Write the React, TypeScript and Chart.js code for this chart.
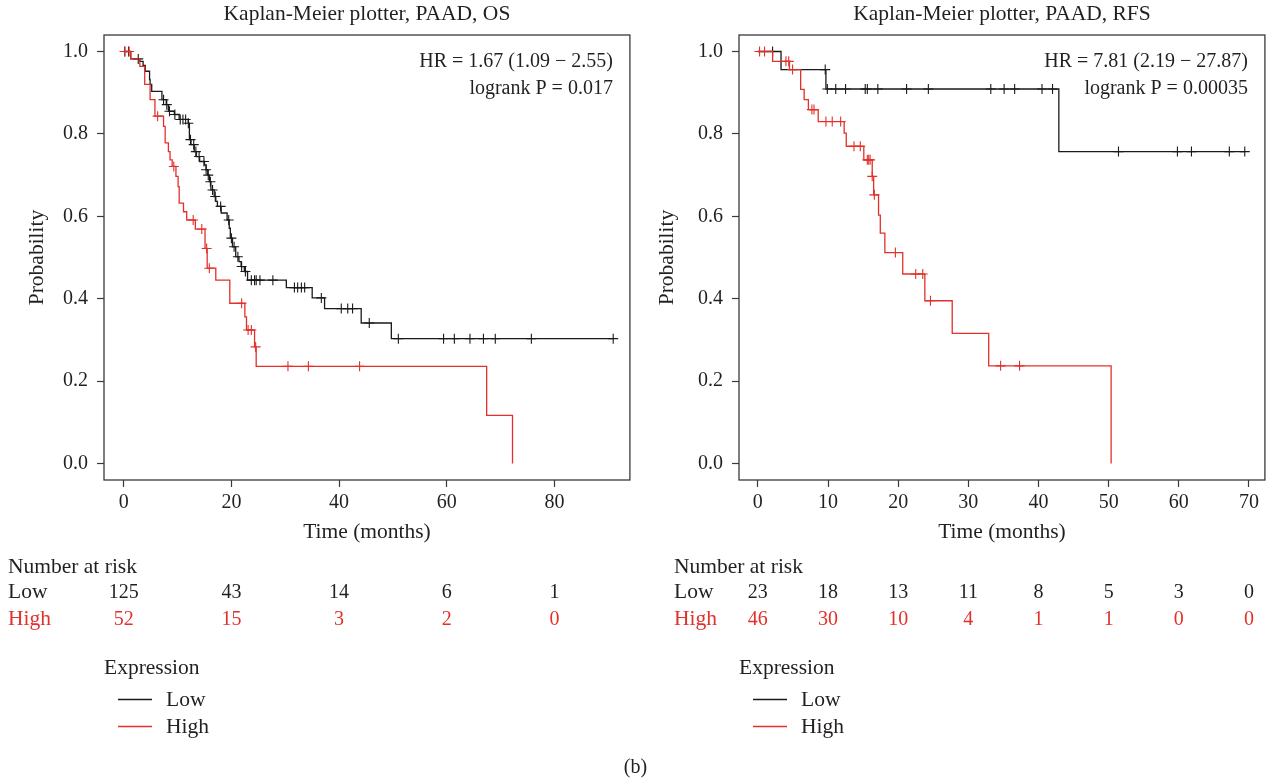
import React, { useEffect, useRef } from 'react';
import { Chart, registerables } from 'chart.js';

Chart.register(...registerables);

const FONT_FAMILY = "'Liberation Serif', 'Times New Roman', serif";
const FONT_SIZE = 20;
const WORD_SIZE = 21.5;
const TEXT_COLOR = '#231f20';
const LOW_COLOR = '#1a1a1a';
const HIGH_COLOR = '#e3302a';
const BOX_COLOR = '#3a3a3a';

// ---------------- OS panel data ----------------
const osLowTimes = [0, 1.3, 3.0, 3.6, 4.0, 4.8, 4.9, 5.2, 7.1, 7.9, 8.3, 9.4, 10.3, 12.0, 12.2, 12.5, 13.1, 13.5, 14.1, 15.0, 15.3, 15.6, 15.9, 16.2, 16.8, 17.1, 17.4, 18.1, 19.2, 19.6, 19.8, 20.2, 20.8, 21.4, 21.8, 22.4, 23.0, 30.2, 35.0, 37.3, 44.1, 49.7];
const osLowSurv = [1, 0.982, 0.976, 0.966, 0.952, 0.932, 0.92, 0.903, 0.883, 0.871, 0.855, 0.847, 0.835, 0.826, 0.786, 0.774, 0.757, 0.745, 0.733, 0.725, 0.713, 0.7, 0.684, 0.664, 0.648, 0.636, 0.624, 0.608, 0.591, 0.571, 0.547, 0.526, 0.502, 0.49, 0.478, 0.466, 0.445, 0.427, 0.402, 0.376, 0.341, 0.303];
const osLowEnd = 90.9;
const osLowCensor = [0.2, 0.9, 2.7, 7.4, 8.0, 8.5, 9.5, 10.5, 11.0, 11.5, 12.0, 12.4, 13.0, 13.4, 14.0, 14.9, 15.3, 15.7, 16.1, 16.5, 17.0, 18.0, 19.5, 20.0, 20.5, 21.2, 21.9, 22.6, 23.7, 24.3, 24.6, 25.3, 27.7, 31.7, 32.3, 33.0, 33.6, 36.7, 40.4, 41.6, 42.5, 45.6, 51.0, 59.4, 61.4, 64.3, 66.8, 69.0, 75.7, 90.9];

const osHighTimes = [0, 1.3, 3.0, 3.9, 4.9, 5.8, 7.4, 7.7, 8.3, 8.6, 9.0, 9.7, 10.1, 10.3, 11.1, 11.7, 13.3, 15.1, 15.5, 17.1, 19.7, 22.5, 22.8, 24.3, 24.6, 67.4, 72.2];
const osHighSurv = [1, 0.982, 0.964, 0.92, 0.883, 0.843, 0.818, 0.778, 0.757, 0.737, 0.721, 0.697, 0.672, 0.632, 0.611, 0.591, 0.569, 0.522, 0.474, 0.445, 0.389, 0.356, 0.324, 0.283, 0.236, 0.117, 0];
const osHighEnd = 72.2;
const osHighCensor = [0.2, 1.0, 6.3, 9.3, 12.9, 14.5, 15.4, 15.9, 21.9, 23.1, 23.7, 24.5, 30.5, 34.3, 43.8];

const osXTicks = [0, 20, 40, 60, 80];
const osRiskLow = [125, 43, 14, 6, 1];
const osRiskHigh = [52, 15, 3, 2, 0];

// ---------------- RFS panel data ----------------
const rfsLowTimes = [0, 3.3, 9.7, 42.9];
const rfsLowSurv = [1, 0.956, 0.909, 0.757];
const rfsLowEnd = 69.4;
const rfsLowCensor = [2.1, 9.6, 9.9, 11.1, 12.5, 15.3, 15.6, 17.1, 21.2, 24.3, 33.2, 35.1, 36.6, 40.5, 42.0, 51.4, 59.8, 61.8, 67.2, 69.4];

const rfsHighTimes = [0, 2.1, 4.5, 6.1, 6.6, 7.2, 8.6, 12.3, 12.6, 15.1, 16.3, 16.5, 17.2, 17.45, 18.1, 20.65, 23.8, 27.7, 32.9, 50.35];
const rfsHighSurv = [1, 0.976, 0.956, 0.908, 0.883, 0.859, 0.83, 0.802, 0.77, 0.737, 0.697, 0.652, 0.603, 0.559, 0.512, 0.46, 0.395, 0.316, 0.237, 0];
const rfsHighEnd = 50.35;
const rfsHighCensor = [0.24, 0.95, 4.0, 4.4, 4.95, 7.7, 8.0, 9.7, 10.6, 11.8, 13.7, 14.6, 15.6, 15.8, 16.0, 16.3, 16.6, 19.6, 22.5, 23.5, 24.6, 34.6, 37.3];

const rfsXTicks = [0, 10, 20, 30, 40, 50, 60, 70];
const rfsRiskLow = [23, 18, 13, 11, 8, 5, 3, 0];
const rfsRiskHigh = [46, 30, 10, 4, 1, 1, 0, 0];

const yTicks = [0, 0.2, 0.4, 0.6, 0.8, 1.0];

// ---------------- helpers ----------------
type Pt = { x: number; y: number };

function stepPoints(times: number[], surv: number[], end: number): Pt[] {
  const pts = times.map((t, i) => ({ x: t, y: surv[i] }));
  if (end > times[times.length - 1]) pts.push({ x: end, y: surv[surv.length - 1] });
  return pts;
}

function survAt(times: number[], surv: number[], t: number): number {
  let s = surv[0];
  for (let i = 0; i < times.length; i++) if (times[i] <= t) s = surv[i];
  return s;
}

function censorPoints(times: number[], surv: number[], cens: number[]): Pt[] {
  return cens.map((t) => ({ x: t, y: survAt(times, surv, t) }));
}

type PanelCfg = {
  left: number;
  width: number;
  yWidth: number;
  padRight: number;
  yTitlePad: number;
  riskLabelX: number;
  title: string;
  hr: string;
  p: string;
  xMin: number;
  xMax: number;
  xTicks: number[];
  riskLow: number[];
  riskHigh: number[];
  low: { times: number[]; surv: number[]; end: number; cens: number[] };
  high: { times: number[]; surv: number[]; end: number; cens: number[] };
};

const panels: PanelCfg[] = [
  {
    left: 0,
    width: 636,
    yWidth: 104,
    padRight: 4,
    yTitlePad: 24,
    riskLabelX: 8,
    title: 'Kaplan-Meier plotter, PAAD, OS',
    hr: 'HR = 1.67 (1.09 \u2212 2.55)',
    p: 'logrank P = 0.017',
    xMin: -3.66,
    xMax: 94.0,
    xTicks: osXTicks,
    riskLow: osRiskLow,
    riskHigh: osRiskHigh,
    low: { times: osLowTimes, surv: osLowSurv, end: osLowEnd, cens: osLowCensor },
    high: { times: osHighTimes, surv: osHighSurv, end: osHighEnd, cens: osHighCensor },
  },
  {
    left: 636,
    width: 635,
    yWidth: 103,
    padRight: 2,
    yTitlePad: 18,
    riskLabelX: 38,
    title: 'Kaplan-Meier plotter, PAAD, RFS',
    hr: 'HR = 7.81 (2.19 \u2212 27.87)',
    p: 'logrank P = 0.00035',
    xMin: -2.69,
    xMax: 72.27,
    xTicks: rfsXTicks,
    riskLow: rfsRiskLow,
    riskHigh: rfsRiskHigh,
    low: { times: rfsLowTimes, surv: rfsLowSurv, end: rfsLowEnd, cens: rfsLowCensor },
    high: { times: rfsHighTimes, surv: rfsHighSurv, end: rfsHighEnd, cens: rfsHighCensor },
  },
];

function KMPanel({ cfg }: { cfg: PanelCfg }) {
  const ref = useRef<HTMLCanvasElement>(null);

  useEffect(() => {
    const canvas = ref.current;
    if (!canvas) return;
    const font = { family: FONT_FAMILY, size: FONT_SIZE, weight: 'normal' as const };
    const wordFont = { family: FONT_FAMILY, size: WORD_SIZE, weight: 'normal' as const };
    const numFont = `${FONT_SIZE}px ${FONT_FAMILY}`;
    const txtFont = `${WORD_SIZE}px ${FONT_FAMILY}`;

    const extras = {
      id: 'kmExtras',
      afterDraw(chart: any) {
        const ctx = chart.ctx as CanvasRenderingContext2D;
        const a = chart.chartArea;
        const xs = chart.scales.x;
        ctx.save();
        ctx.strokeStyle = BOX_COLOR;
        ctx.lineWidth = 1.3;
        ctx.strokeRect(a.left, a.top, a.right - a.left, a.bottom - a.top);

        ctx.textBaseline = 'alphabetic';
        ctx.fillStyle = TEXT_COLOR;
        ctx.textAlign = 'center';
        ctx.font = txtFont;
        ctx.fillText(cfg.title, (a.left + a.right) / 2, 20);

        ctx.font = numFont;
        ctx.textAlign = 'right';
        ctx.fillText(cfg.hr, a.right - 17, 67);
        ctx.fillText(cfg.p, a.right - 17, 94);

        // number at risk
        ctx.font = txtFont;
        ctx.textAlign = 'left';
        ctx.fillText('Number at risk', cfg.riskLabelX, 573);
        ctx.fillText('Low', cfg.riskLabelX, 598);
        ctx.fillStyle = HIGH_COLOR;
        ctx.fillText('High', cfg.riskLabelX, 625);
        ctx.font = numFont;
        ctx.textAlign = 'center';
        cfg.xTicks.forEach((t, i) => {
          const x = xs.getPixelForValue(t);
          ctx.fillStyle = TEXT_COLOR;
          ctx.fillText(String(cfg.riskLow[i]), x, 598);
          ctx.fillStyle = HIGH_COLOR;
          ctx.fillText(String(cfg.riskHigh[i]), x, 625);
        });

        // legend
        ctx.font = txtFont;
        ctx.textAlign = 'left';
        ctx.fillStyle = TEXT_COLOR;
        ctx.fillText('Expression', a.left, 674);
        ctx.fillText('Low', a.left + 62, 706);
        ctx.fillText('High', a.left + 62, 733);
        ctx.lineWidth = 1.3;
        ctx.strokeStyle = LOW_COLOR;
        ctx.beginPath();
        ctx.moveTo(a.left + 14, 699.5);
        ctx.lineTo(a.left + 48, 699.5);
        ctx.stroke();
        ctx.strokeStyle = HIGH_COLOR;
        ctx.beginPath();
        ctx.moveTo(a.left + 14, 726.5);
        ctx.lineTo(a.left + 48, 726.5);
        ctx.stroke();
        ctx.restore();
      },
    };

    const chart = new Chart(canvas, {
      type: 'line',
      data: {
        datasets: [
          {
            data: stepPoints(cfg.high.times, cfg.high.surv, cfg.high.end),
            borderColor: HIGH_COLOR,
            borderWidth: 1.3,
            stepped: true,
            pointRadius: 0,
            fill: false,
          },
          {
            data: censorPoints(cfg.high.times, cfg.high.surv, cfg.high.cens),
            showLine: false,
            pointStyle: 'cross',
            pointRadius: 5,
            pointBorderWidth: 1.1,
            pointBorderColor: HIGH_COLOR,
            borderColor: HIGH_COLOR,
          },
          {
            data: stepPoints(cfg.low.times, cfg.low.surv, cfg.low.end),
            borderColor: LOW_COLOR,
            borderWidth: 1.3,
            stepped: true,
            pointRadius: 0,
            fill: false,
          },
          {
            data: censorPoints(cfg.low.times, cfg.low.surv, cfg.low.cens),
            showLine: false,
            pointStyle: 'cross',
            pointRadius: 5,
            pointBorderWidth: 1.1,
            pointBorderColor: LOW_COLOR,
            borderColor: LOW_COLOR,
          },
        ] as any,
      },
      options: {
        responsive: false,
        animation: false,
        events: [],
        layout: { padding: { left: 0, right: cfg.padRight, top: 35, bottom: 780 - 480 - 65 } },
        plugins: {
          legend: { display: false },
          tooltip: { enabled: false },
          title: { display: false },
        },
        scales: {
          x: {
            type: 'linear',
            min: cfg.xMin,
            max: cfg.xMax,
            afterBuildTicks: (s: any) => {
              s.ticks = cfg.xTicks.map((v) => ({ value: v }));
            },
            afterFit: (s: any) => {
              s.height = 65;
            },
            grid: { drawOnChartArea: false, drawTicks: true, tickLength: 7, tickColor: BOX_COLOR, tickWidth: 1.2 },
            border: { display: false },
            ticks: {
              font,
              color: TEXT_COLOR,
              padding: 4,
              maxRotation: 0,
              autoSkip: false,
              callback: (v: any) => String(v),
            },
            title: { display: true, text: 'Time (months)', font: wordFont, color: TEXT_COLOR, padding: 0 },
          },
          y: {
            type: 'linear',
            min: -0.04,
            max: 1.04,
            afterBuildTicks: (s: any) => {
              s.ticks = yTicks.map((v) => ({ value: v }));
            },
            afterFit: (s: any) => {
              s.width = cfg.yWidth;
            },
            grid: { drawOnChartArea: false, drawTicks: true, tickLength: 7, tickColor: BOX_COLOR, tickWidth: 1.2 },
            border: { display: false },
            ticks: {
              font,
              color: TEXT_COLOR,
              padding: 9,
              autoSkip: false,
              callback: (v: any) => Number(v).toFixed(1),
            },
            title: {
              display: true,
              text: 'Probability',
              font: wordFont,
              color: TEXT_COLOR,
              padding: { top: cfg.yTitlePad, bottom: 0 },
            },
          },
        },
      } as any,
      plugins: [extras],
    });
    return () => chart.destroy();
  }, [cfg]);

  return (
    <canvas
      ref={ref}
      width={cfg.width}
      height={780}
      style={{ position: 'absolute', left: cfg.left, top: 0, width: cfg.width, height: 780 }}
    />
  );
}

export default function App() {
  return (
    <div style={{ position: 'absolute', left: 0, top: 0, width: 1271, height: 780, background: '#ffffff', overflow: 'hidden' }}>
      {panels.map((p, i) => (
        <KMPanel key={i} cfg={p} />
      ))}
      <div
        style={{
          position: 'absolute',
          left: 0,
          top: 754,
          width: 1271,
          textAlign: 'center',
          fontFamily: FONT_FAMILY,
          fontSize: 20,
          lineHeight: '24px',
          color: TEXT_COLOR,
        }}
      >
        (b)
      </div>
    </div>
  );
}
